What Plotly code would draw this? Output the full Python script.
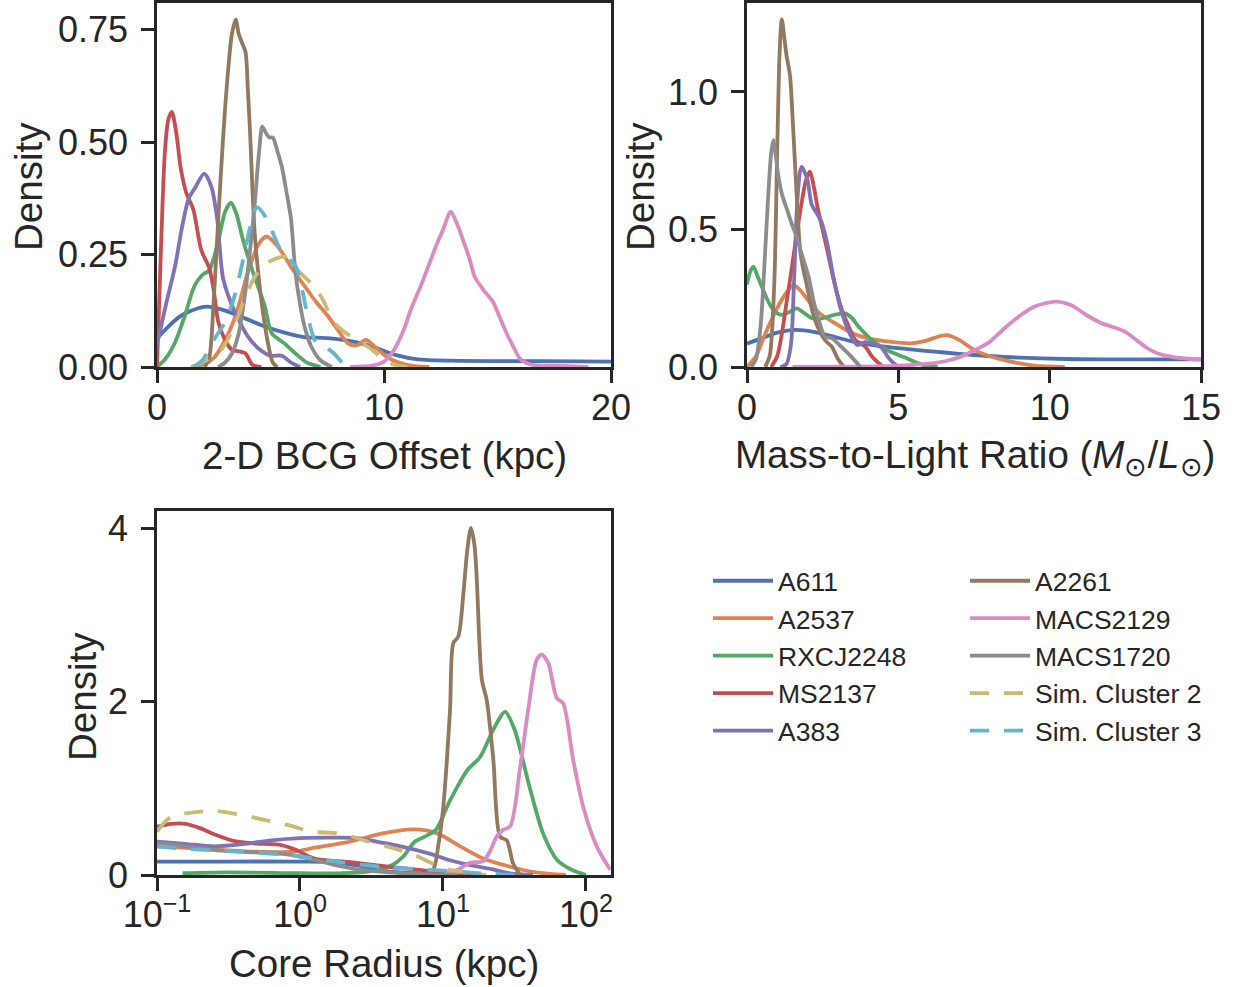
import plotly.graph_objects as go

W, H = 1235, 987
INK = "#262626"

names = ["A611", "A2537", "RXCJ2248", "MS2137", "A383",
         "A2261", "MACS2129", "MACS1720", "Sim. Cluster 2", "Sim. Cluster 3"]
colors = ["#4C72B0", "#DD8452", "#55A868", "#C44E52", "#8172B3",
          "#937860", "#DA8BC3", "#8C8C8C", "#CCB974", "#64B5CD"]
dashes = ["solid"] * 8 + ["19px,15px", "19px,15px"]

# ---------------- Panel 1: 2-D BCG offset (kpc) ----------------
off_x = {
    "A611": [0, 0.5, 1.0, 1.5, 2.2, 2.9, 3.7, 4.6, 5.5, 6.4, 7.5, 8.7, 9.5, 10.5, 11.5, 13, 15, 17, 20],
    "A2537": [1.5, 2.0, 2.5, 3.0, 3.5, 4.0, 4.5, 4.83, 5.2, 5.5, 6.0, 6.5, 7.0, 7.5, 8.0, 8.4, 8.8, 9.2, 9.6, 10.2, 11.0, 12.0],
    "RXCJ2248": [0, 0.4, 0.8, 1.2, 1.65, 2.0, 2.3, 2.7, 3.0, 3.26, 3.5, 3.8, 4.3, 4.75, 5.05, 5.6, 6.1, 6.6, 7.2],
    "MS2137": [0, 0.1, 0.2, 0.35, 0.5, 0.65, 0.85, 1.05, 1.3, 1.6, 1.95, 2.3, 2.5, 2.7, 3.0, 3.3, 3.6, 3.9, 4.2, 4.6],
    "A383": [0, 0.4, 0.8, 1.1, 1.4, 1.7, 2.08, 2.4, 2.65, 2.9, 3.2, 3.5, 4.0, 4.5, 5.0, 5.5, 5.9, 6.3],
    "A2261": [2.1, 2.3, 2.5, 2.7, 2.9, 3.1, 3.3, 3.47, 3.6, 3.75, 3.9, 4.0, 4.1, 4.3, 4.5, 4.7, 4.9, 5.1, 5.3],
    "MACS2129": [8.5, 9.5, 10.0, 10.4, 10.85, 11.2, 11.6, 12.0, 12.3, 12.6, 12.94, 13.2, 13.5, 13.8, 14.0, 14.4, 14.8, 15.1, 15.4, 15.7, 16.0, 16.5, 17.5, 19],
    "MACS1720": [2.7, 3.0, 3.3, 3.6, 3.9, 4.1, 4.3, 4.5, 4.64, 4.8, 4.95, 5.1, 5.3, 5.5, 5.7, 5.9, 6.1, 6.3, 6.5, 6.8, 7.2, 7.7],
    "Sim. Cluster 2": [1.5, 2.0, 2.5, 2.85, 3.3, 3.7, 4.3, 4.8, 5.2, 5.6, 6.0, 6.5, 7.0, 7.4, 7.7, 8.2, 8.8, 9.3, 9.8, 10.3, 11.0],
    "Sim. Cluster 3": [1.6, 2.0, 2.5, 3.0, 3.4, 3.8, 4.1, 4.4, 4.7, 5.0, 5.4, 5.8, 6.1, 6.4, 6.7, 7.0, 7.4, 7.8, 8.2, 8.6],
}
off_y = {
    "A611": [0.064, 0.09, 0.112, 0.125, 0.134, 0.127, 0.112, 0.093, 0.078, 0.067, 0.064, 0.056, 0.045, 0.027, 0.017, 0.014, 0.013, 0.013, 0.012],
    "A2537": [0, 0.005, 0.02, 0.06, 0.12, 0.21, 0.275, 0.29, 0.275, 0.255, 0.215, 0.18, 0.145, 0.115, 0.08, 0.053, 0.048, 0.06, 0.045, 0.02, 0.005, 0.0],
    "RXCJ2248": [0.0, 0.02, 0.055, 0.11, 0.18, 0.205, 0.215, 0.28, 0.345, 0.365, 0.34, 0.28, 0.20, 0.135, 0.075, 0.053, 0.03, 0.01, 0.0],
    "MS2137": [0.0, 0.15, 0.30, 0.48, 0.55, 0.567, 0.52, 0.44, 0.385, 0.35, 0.26, 0.22, 0.17, 0.10, 0.06, 0.038, 0.035, 0.03, 0.005, 0.0],
    "A383": [0.05, 0.14, 0.225, 0.31, 0.375, 0.40, 0.43, 0.40, 0.33, 0.20, 0.15, 0.115, 0.068, 0.04, 0.025, 0.025, 0.01, 0.0],
    "A2261": [0, 0.02, 0.15, 0.33, 0.5, 0.64, 0.74, 0.772, 0.74, 0.72, 0.70, 0.62, 0.52, 0.30, 0.19, 0.11, 0.05, 0.01, 0],
    "MACS2129": [0, 0.003, 0.012, 0.035, 0.08, 0.13, 0.178, 0.23, 0.27, 0.305, 0.345, 0.32, 0.28, 0.235, 0.20, 0.17, 0.145, 0.11, 0.075, 0.045, 0.018, 0.005, 0.003, 0.0],
    "MACS1720": [0, 0.01, 0.03, 0.075, 0.17, 0.26, 0.36, 0.48, 0.534, 0.52, 0.51, 0.51, 0.48, 0.445, 0.39, 0.33, 0.21, 0.14, 0.09, 0.045, 0.015, 0.0],
    "Sim. Cluster 2": [0, 0.01, 0.025, 0.04, 0.08, 0.13, 0.20, 0.23, 0.24, 0.245, 0.225, 0.20, 0.175, 0.14, 0.105, 0.08, 0.06, 0.045, 0.025, 0.008, 0],
    "Sim. Cluster 3": [0, 0.015, 0.06, 0.10, 0.155, 0.24, 0.31, 0.355, 0.34, 0.31, 0.265, 0.24, 0.225, 0.17, 0.10, 0.055, 0.045, 0.03, 0.008, 0],
}

# ---------------- Panel 2: mass-to-light ratio ----------------
ml_x = {
    "A611": [0, 0.5, 1.0, 1.59, 2.2, 2.8, 3.4, 4.0, 4.7, 5.4, 6.2, 7.0, 8.0, 9.0, 10.5, 12, 13.5, 15],
    "A2537": [0, 0.3, 0.6, 1.0, 1.3, 1.53, 1.75, 2.0, 2.4, 2.9, 3.5, 4.0, 4.7, 5.4, 5.9, 6.3, 6.6, 6.9, 7.2, 7.5, 8.0, 8.6, 9.5, 10.5],
    "RXCJ2248": [0, 0.1, 0.21, 0.35, 0.5, 0.65, 0.82, 1.0, 1.15, 1.4, 1.64, 1.9, 2.14, 2.4, 2.6, 2.9, 3.24, 3.45, 3.7, 4.1, 4.6, 5.2, 5.8, 6.3],
    "MS2137": [0.8, 1.0, 1.15, 1.3, 1.48, 1.65, 1.81, 1.95, 2.08, 2.2, 2.35, 2.52, 2.7, 2.9, 3.13, 3.35, 3.6, 3.9, 4.15, 4.5],
    "A383": [1.1, 1.3, 1.45, 1.55, 1.65, 1.75, 1.81, 1.9, 2.0, 2.14, 2.3, 2.45, 2.65, 2.85, 3.1, 3.4, 3.65, 3.9, 4.2, 4.45, 4.7, 5.0],
    "A2261": [0.6, 0.75, 0.9, 1.0, 1.08, 1.15, 1.23, 1.31, 1.42, 1.5, 1.59, 1.68, 1.75, 1.85, 1.97, 2.1, 2.25, 2.45, 2.6, 2.8, 3.0, 3.2],
    "MACS2129": [1.5, 3, 4.5, 5.5, 6.0, 6.5, 7.0, 7.5, 8.0, 8.5, 9.0, 9.5, 10.2, 10.7, 11.2, 11.7, 12.1, 12.5, 12.9, 13.2, 13.6, 14.1, 14.6, 15],
    "MACS1720": [0.15, 0.3, 0.45, 0.6, 0.7, 0.8, 0.87, 0.95, 1.03, 1.15, 1.3, 1.48, 1.65, 1.81, 2.03, 2.2, 2.4, 2.58, 2.8, 3.1, 3.45, 3.75],
}
ml_y = {
    "A611": [0.085, 0.105, 0.125, 0.135, 0.128, 0.112, 0.095, 0.082, 0.072, 0.064, 0.056, 0.048, 0.04, 0.034, 0.029, 0.028, 0.028, 0.028],
    "A2537": [0.0, 0.04, 0.12, 0.215, 0.27, 0.298, 0.28, 0.245, 0.195, 0.16, 0.122, 0.104, 0.092, 0.086, 0.095, 0.11, 0.116, 0.105, 0.085, 0.062, 0.04, 0.022, 0.005, 0],
    "RXCJ2248": [0.30, 0.345, 0.365, 0.33, 0.29, 0.25, 0.215, 0.195, 0.19, 0.20, 0.213, 0.195, 0.177, 0.175, 0.18, 0.19, 0.195, 0.18, 0.145, 0.10, 0.063, 0.035, 0.008, 0],
    "MS2137": [0, 0.04, 0.12, 0.23, 0.36, 0.49, 0.60, 0.68, 0.71, 0.66, 0.57, 0.49, 0.40, 0.30, 0.21, 0.15, 0.095, 0.075, 0.035, 0],
    "A383": [0, 0.01, 0.08, 0.3, 0.58, 0.71, 0.728, 0.71, 0.68, 0.59, 0.56, 0.53, 0.45, 0.33, 0.21, 0.12, 0.08, 0.09, 0.085, 0.07, 0.03, 0],
    "A2261": [0, 0.04, 0.3, 0.8, 1.15, 1.264, 1.2, 1.13, 1.06, 0.92, 0.73, 0.55, 0.43, 0.36, 0.30, 0.23, 0.17, 0.12, 0.095, 0.074, 0.03, 0],
    "MACS2129": [0, 0.001, 0.003, 0.008, 0.012, 0.02, 0.035, 0.06, 0.09, 0.14, 0.185, 0.22, 0.238, 0.225, 0.19, 0.16, 0.145, 0.128, 0.095, 0.07, 0.048, 0.036, 0.03, 0.028],
    "MACS1720": [0, 0.03, 0.15, 0.42, 0.62, 0.78, 0.825, 0.77, 0.70, 0.63, 0.58, 0.52, 0.47, 0.41, 0.33, 0.24, 0.16, 0.11, 0.105, 0.075, 0.037, 0],
}

# ---------------- Panel 3: core radius (kpc, log axis) ----------------
rc_x = {
    "A611": [0.1, 0.316, 1.0, 1.58, 2.51, 3.98, 6.31, 10.0, 15.8],
    "A2537": [0.1, 0.2, 0.447, 0.891, 1.32, 2.24, 3.8, 6.17, 9.12, 13.2, 19.1, 29.5, 44.7, 72.4],
    "RXCJ2248": [0.151, 0.316, 1.0, 2.0, 3.55, 4.47, 5.25, 6.31, 7.41, 8.91, 11.2, 14.8, 18.2, 22.4, 27.2, 31.6, 39.8, 50.1, 63.1, 79.4, 100],
    "MS2137": [0.1, 0.126, 0.158, 0.2, 0.251, 0.331, 0.479, 0.741, 0.933, 1.26, 2.19, 4.17, 7.08, 11.2, 20.0],
    "A383": [0.1, 0.158, 0.251, 0.398, 0.631, 1.0, 1.58, 2.51, 3.55, 5.25, 7.94, 11.2, 15.8, 21.4, 29.5, 42.7],
    "A2261": [7.08, 8.51, 9.33, 10.0, 11.2, 11.8, 12.8, 13.9, 14.8, 15.7, 16.6, 17.2, 18.7, 20.2, 22.5, 25.1, 27.9, 31.0, 34.7],
    "MACS2129": [10.0, 12.6, 15.5, 19.1, 21.4, 23.7, 26.3, 29.5, 34.7, 39.8, 45.2, 49.0, 54.6, 62.4, 69.2, 81.3, 95.5, 118.9, 147.9],
    "MACS1720": [0.1, 0.158, 0.282, 0.501, 0.891, 1.41, 2.0, 2.69, 4.17, 7.08, 12.6],
    "Sim. Cluster 2": [0.1, 0.112, 0.126, 0.158, 0.251, 0.398, 0.562, 0.832, 1.2, 1.86, 3.02, 4.17, 6.31, 10.0, 14.1, 20.0],
    "Sim. Cluster 3": [0.1, 0.166, 0.372, 0.832, 1.26, 2.4, 4.17, 7.08, 11.2, 20.0, 31.6],
}
rc_y = {
    "A611": [0.155, 0.155, 0.155, 0.15, 0.11, 0.045, 0.02, 0.008, 0.0],
    "A2537": [0.33, 0.305, 0.27, 0.27, 0.32, 0.385, 0.48, 0.525, 0.48, 0.33, 0.19, 0.095, 0.03, 0.0],
    "RXCJ2248": [0.02, 0.03, 0.02, 0.02, 0.06, 0.12, 0.21, 0.38, 0.44, 0.52, 0.86, 1.21, 1.36, 1.67, 1.88, 1.68, 1.05, 0.48, 0.17, 0.06, 0.0],
    "MS2137": [0.557, 0.59, 0.59, 0.54, 0.47, 0.40, 0.365, 0.345, 0.29, 0.19, 0.15, 0.095, 0.055, 0.015, 0.0],
    "A383": [0.385, 0.36, 0.33, 0.355, 0.40, 0.425, 0.43, 0.425, 0.38, 0.325, 0.25, 0.17, 0.11, 0.07, 0.02, 0.0],
    "A2261": [0.0, 0.06, 0.37, 0.75, 1.9, 2.67, 2.75, 3.25, 3.75, 4.0, 3.8, 3.44, 2.25, 2.02, 1.33, 0.44, 0.40, 0.13, 0.0],
    "MACS2129": [0.0, 0.06, 0.14, 0.16, 0.28, 0.44, 0.52, 0.56, 1.25, 1.95, 2.48, 2.54, 2.44, 2.04, 1.98, 1.33, 0.79, 0.33, 0.06],
    "MACS1720": [0.37, 0.33, 0.28, 0.26, 0.23, 0.155, 0.095, 0.058, 0.03, 0.01, 0.0],
    "Sim. Cluster 2": [0.5, 0.6, 0.67, 0.71, 0.74, 0.69, 0.635, 0.575, 0.5, 0.48, 0.385, 0.325, 0.23, 0.08, 0.03, 0.0],
    "Sim. Cluster 3": [0.33, 0.30, 0.27, 0.23, 0.19, 0.127, 0.088, 0.065, 0.045, 0.015, 0.0],
}

x1_ticks = [0, 10, 20]
y1_ticks = [0, 0.25, 0.5, 0.75]
y1_text = ["0.00", "0.25", "0.50", "0.75"]
x2_ticks = [0, 5, 10, 15]
y2_ticks = [0, 0.5, 1.0]
y2_text = ["0.0", "0.5", "1.0"]
x3_ticks = [0.1, 1, 10, 100]
x3_text = ["10<sup>\u22121</sup>", "10<sup>0</sup>", "10<sup>1</sup>", "10<sup>2</sup>"]
y3_ticks = [0, 2, 4]

fig = go.Figure()


def add(xd, yd, xa, ya, show):
    for i, n in enumerate(names):
        if n not in xd:
            continue
        fig.add_trace(go.Scatter(
            x=xd[n], y=yd[n], mode="lines", name=n,
            line=dict(color=colors[i], width=3.8, dash=dashes[i], shape="spline", smoothing=0.8),
            xaxis=xa, yaxis=ya, showlegend=show,
            legend="legend" if i < 5 else "legend2",
            legendgroup=n,
        ))


add(off_x, off_y, "x", "y", True)
add(ml_x, ml_y, "x2", "y2", False)
add(rc_x, rc_y, "x3", "y3", False)

axis_common = dict(showline=True, mirror=True, linecolor=INK, linewidth=2.5,
                   ticks="outside", ticklen=13, tickwidth=2.5, tickcolor=INK,
                   showgrid=False, zeroline=False, automargin=False,
                   tickfont=dict(size=36, color=INK))


def px_x(a, b):
    return [a / W, b / W]


def px_y(top, bottom):
    return [1 - bottom / H, 1 - top / H]


fig.update_layout(
    width=W, height=H, autosize=False,
    margin=dict(l=0, r=0, t=0, b=0, pad=0),
    paper_bgcolor="white", plot_bgcolor="white",
    font=dict(family="Liberation Sans, Arial, sans-serif", color=INK),
    xaxis=dict(domain=px_x(157, 611), range=[0, 20], tickvals=x1_ticks, anchor="y", ticklabelstandoff=-6, **axis_common),
    yaxis=dict(domain=px_y(3, 367), range=[0, 0.809], tickvals=y1_ticks, ticktext=y1_text, anchor="x", ticklabelstandoff=6, **axis_common),
    xaxis2=dict(domain=px_x(747, 1201), range=[0, 15], tickvals=x2_ticks, anchor="y2", ticklabelstandoff=-6, **axis_common),
    yaxis2=dict(domain=px_y(3, 367), range=[0, 1.3236], tickvals=y2_ticks, ticktext=y2_text, anchor="x2", ticklabelstandoff=6, **axis_common),
    xaxis3=dict(domain=px_x(157, 611), type="log", range=[-1, 2.175], tickvals=x3_ticks, ticktext=x3_text, anchor="y3", ticklabelstandoff=-7, **axis_common),
    yaxis3=dict(domain=px_y(511, 875), range=[0, 4.196], tickvals=y3_ticks, anchor="x3", ticklabelstandoff=6, **axis_common),
    legend=dict(x=708 / W, y=1 - 557 / H, xanchor="left", yanchor="top",
                font=dict(size=26.5, color=INK), bgcolor="rgba(0,0,0,0)",
                tracegroupgap=0, itemwidth=60),
    legend2=dict(x=965 / W, y=1 - 557 / H, xanchor="left", yanchor="top",
                 font=dict(size=26.5, color=INK), bgcolor="rgba(0,0,0,0)",
                 tracegroupgap=0, itemwidth=60),
)

titles = [
    ("Density", 28, 187, -90),
    ("Density", 640, 187, -90),
    ("Density", 82, 697, -90),
    ("2-D BCG Offset (kpc)", 384, 455, 0),
    ("Mass-to-Light Ratio (<i>M</i><sub>\u2299</sub>/<i>L</i><sub>\u2299</sub>)", 975, 457, 0),
    ("Core Radius (kpc)", 384, 963, 0),
]
for txt, cx, cy, ang in titles:
    fig.add_annotation(text=txt, x=cx / W, y=1 - cy / H, xref="paper", yref="paper",
                       showarrow=False, textangle=ang, xanchor="center", yanchor="middle",
                       font=dict(size=38.5, color=INK))

fig.write_html("out.html", config={"displayModeBar": False},
               post_script="document.body.style.margin='0';document.body.style.overflow='hidden';")
